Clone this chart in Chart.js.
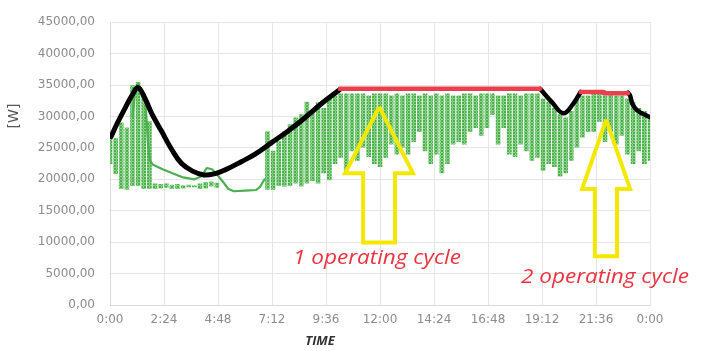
<!DOCTYPE html>
<html>
<head>
<meta charset="utf-8">
<script src="https://cdn.jsdelivr.net/npm/chart.js@4/dist/chart.umd.min.js"></script>
<style>
  html,body{margin:0;padding:0;background:#fff;}
  #wrap{width:703px;height:351px;}
</style>
</head>
<body>
<div id="wrap"><canvas id="c"></canvas></div>
<script>
// ===================== DATA =====================
// time in minutes since 0:00, power in W
const timeLabels=['0:00','2:24','4:48','7:12','9:36','12:00','14:24','16:48','19:12','21:36','0:00'];

// green measurements: vertical spread per 15 min column
const greenTimes=[0,15,30,45,60,75,90,105,120,135,150,165,180,195,210,225,240,255,270,285,300,315,330,345,360,375,390,405,
  420,435,450,465,480,495,510,525,540,555,570,585,600,615,630,645,660,675,690,705,720,735,750,765,780,795,810,825,840,855,
  870,885,900,915,930,945,960,975,990,1005,1020,1035,1050,1065,1080,1095,1110,1125,1140,1155,1170,1185,1200,1215,1230,1245,
  1260,1275,1290,1305,1320,1335,1350,1365,1380,1395,1410,1425,1440];
const greenHigh=[26700,26500,29000,28200,34900,35400,33500,29200,19300,19200,19300,19100,19200,19000,19100,19000,19300,19500,19600,19400,null,null,null,null,null,null,null,null,
  27600,24500,26000,27600,28700,29800,30300,32300,30500,32200,31300,32800,33300,33600,33600,33600,33600,33600,33300,33600,33600,33600,33300,33600,33300,33600,33600,33300,33600,33300,
  33600,33300,33600,33300,33300,33600,33600,33300,33600,33600,33600,33300,33300,33600,33600,33300,33600,33600,33600,32800,32300,31300,30300,29800,30800,32800,
  33300,33300,33600,33600,33300,33600,33300,33300,32800,32300,31300,30800,30000];
const greenLow=[22500,20900,18500,18400,19000,19000,18500,18500,18500,18600,18700,18500,18500,18600,18800,18800,18500,18600,18900,18700,null,null,null,null,null,null,null,null,
  18400,18400,19000,18900,19000,19400,18900,19400,19800,19400,21000,19900,22500,23500,21400,24500,23000,25100,23600,22500,22000,23500,25600,24000,25100,24000,26000,27600,24500,22500,
  24000,21000,22500,25600,26000,25600,27600,28200,27000,28200,30300,25600,28200,24000,23600,25600,24500,23000,23500,21400,22500,22000,20500,21000,23000,25100,
  26700,27600,27600,29200,26000,27600,25600,27000,24000,22500,24500,22500,23000];

// green trace in the early hours
const traceTimes=[60,68,75,85,93,97,101,106,115,140,165,195,225,245,258,272,285,300,315,330,360,390,400,412];
const traceVals=[30000,34500,35300,34000,33000,30000,26000,23000,22300,21600,21000,20300,20000,20500,21800,21600,20800,19700,18500,18100,18200,18300,18800,20000];

// black fitted curve (three parts)
const blackTimes1=[3,20,40,60,75,93,111,138,165,191,220,250,280,307,350,387,430,475,520,565,613];
const blackVals1=[26800,29000,31300,33500,34600,32900,30500,27600,24700,22500,21300,20700,20900,21500,22800,24000,25800,27700,29800,32100,34300];
const blackTimes2=[1147,1178,1209,1235,1255];
const blackVals2=[34400,32300,30500,32000,33900];
const blackTimes3=[1381,1387,1393,1405,1425,1440];
const blackVals3=[33800,33300,32000,31000,30300,29900];

// red operating cycle plateaus
const redTimes1=[613,1147];
const redVals1=[34400,34400];
const redTimes2=[1255,1317,1317,1381];
const redVals2=[33900,33900,33700,33700];

// yellow arrow outlines (tip, head, shaft)
const arrow1Times=[718,808,760,760,675,675,627,718];
const arrow1Vals=[31550,20950,20950,9930,9930,20950,20950,31550];
const arrow2Times=[1323,1387,1352,1352,1293,1293,1259,1323];
const arrow2Vals=[29480,18470,18470,7760,7760,18470,18470,29480];

// text annotations: label, left time, baseline value
const cycleLabels=['1 operating cycle','2 operating cycle'];
const cycleTimes=[488,1096];
const cycleVals=[6600,3500];

// ===================== CHART =====================
const pts=(xs,ys)=>xs.map((x,i)=>({x,y:ys[i]}));
const RED='#e8404c', YEL='#f5e800', GREEN='#4caf50';

// speckled fill so the green columns look like dense dots
function speckle(){
  const c=document.createElement('canvas');c.width=3;c.height=3;
  const g=c.getContext('2d');
  g.fillStyle='rgb(72,178,72)';g.fillRect(0,0,2,2);
  g.fillStyle='rgba(72,178,72,0.6)';g.fillRect(2,0,1,3);g.fillRect(0,2,3,1);
  return g.createPattern(c,'repeat');
}

const textPlugin={
  id:'texts',
  afterDatasetsDraw(chart){
    const {ctx,scales:{x,y}}=chart;
    ctx.save();
    ctx.fillStyle='#eb3440';
    ctx.font='italic 20px "Open Sans"';
    cycleLabels.forEach((t,i)=>{
      const w=ctx.measureText(t).width;
      ctx.save();
      ctx.translate(x.getPixelForValue(cycleTimes[i]),y.getPixelForValue(cycleVals[i]));
      ctx.scale(168/w,1);
      ctx.fillText(t,0,0);
      ctx.restore();
    });
    ctx.fillStyle='#333';
    ctx.font='italic bold 13px "Open Sans"';
    ctx.textAlign='center';
    ctx.fillText('TIME',320,345);
    ctx.translate(18,116);ctx.rotate(-Math.PI/2);
    ctx.fillStyle='#555';
    ctx.font='14px "DejaVu Sans"';
    ctx.fillText('[W]',0,0);
    ctx.restore();
  }
};

const lineDs=(data,color,w,order,tension)=>({type:'line',data,borderColor:color,borderWidth:w,pointRadius:0,
  tension:tension||0,fill:false,order,borderCapStyle:'round',borderJoinStyle:'round'});

new Chart(document.getElementById('c'),{
  type:'line',
  data:{datasets:[
    {...lineDs(pts(arrow1Times,arrow1Vals),YEL,4,0),borderJoinStyle:'miter',borderCapStyle:'butt'},
    {...lineDs(pts(arrow2Times,arrow2Vals),YEL,4,0),borderJoinStyle:'miter',borderCapStyle:'butt'},
    lineDs(pts(redTimes1,redVals1),RED,4.5,1),
    lineDs(pts(redTimes2,redVals2),RED,4.5,1),
    lineDs(pts(blackTimes1,blackVals1),'#000',5,2,0.4),
    lineDs(pts(blackTimes2,blackVals2),'#000',4.5,2,0.4),
    lineDs(pts(blackTimes3,blackVals3),'#000',4.5,2,0.4),
    lineDs(pts(traceTimes,traceVals),GREEN,2.2,3),
    {type:'bar',data:greenTimes.map((t,i)=>({x:t,y:greenLow[i]==null?null:[greenLow[i],greenHigh[i]]})),
      backgroundColor:speckle(),barThickness:4,order:4}
  ]},
  options:{
    responsive:true,maintainAspectRatio:false,animation:false,
    layout:{padding:{left:0,right:53,top:15,bottom:0}},
    plugins:{legend:{display:false},tooltip:{enabled:false}},
    scales:{
      x:{type:'linear',min:0,max:1440,offset:false,
        afterFit:s=>{s.height=46;},
        grid:{color:'#e6e6e6',drawTicks:false,offset:false},border:{color:'#d9d9d9'},
        ticks:{stepSize:144,padding:8,color:'#8c8c8c',font:{family:'DejaVu Sans',size:12},maxRotation:0,
          callback:(v,i)=>timeLabels[i]}},
      y:{min:0,max:45000,
        afterFit:s=>{s.width=110;},
        grid:{color:'#e6e6e6',drawTicks:false},border:{color:'#d9d9d9'},
        ticks:{stepSize:5000,padding:15,color:'#8c8c8c',font:{family:'DejaVu Sans',size:12},
          callback:v=>v.toFixed(2).replace('.',',')}}
    }
  },
  plugins:[textPlugin]
});
</script>
</body>
</html>
